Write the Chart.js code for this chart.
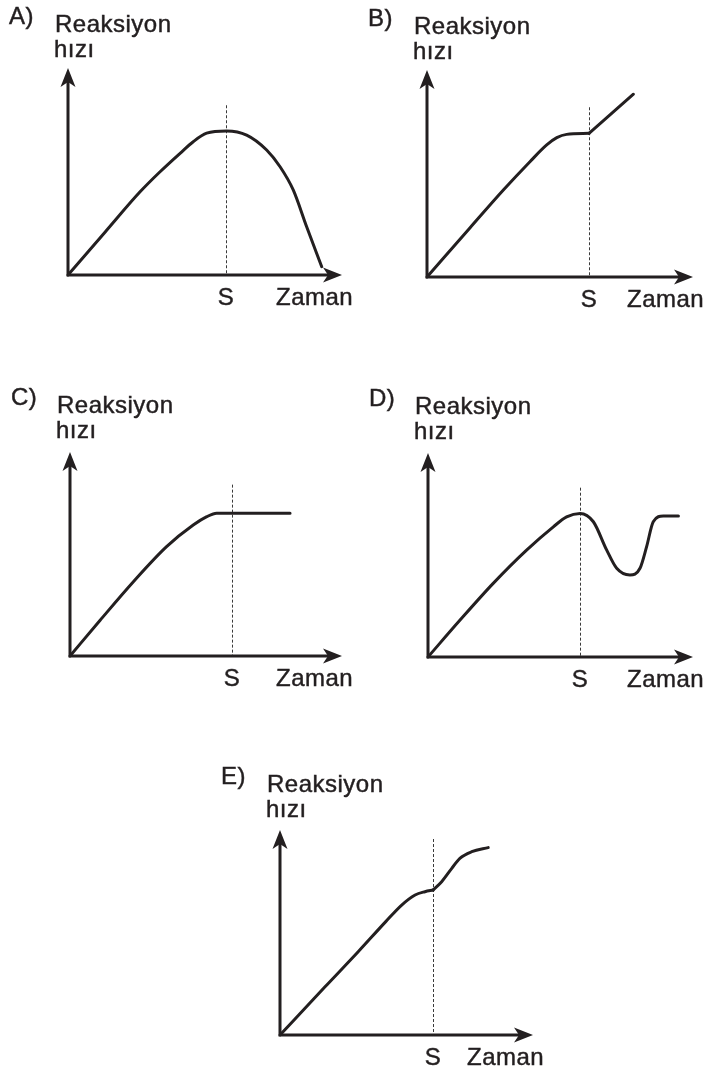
<!DOCTYPE html>
<html lang="tr">
<head>
<meta charset="utf-8">
<title>Reaksiyon hızı - Zaman</title>
<script src="https://cdn.jsdelivr.net/npm/chart.js@4/dist/chart.umd.min.js"></script>
<style>
    body { margin: 0; background: #ffffff; }
    #page { position: relative; width: 709px; height: 1080px; overflow: hidden; }
    #page canvas { position: absolute; }
</style>
</head>
<body>
<div id="page">
    <canvas id="chartA"></canvas>
    <canvas id="chartB"></canvas>
    <canvas id="chartC"></canvas>
    <canvas id="chartD"></canvas>
    <canvas id="chartE"></canvas>
</div>
<script>
// Textos de los gráficos
const LETTERS = ['A)', 'B)', 'C)', 'D)', 'E)'];
const Y_TITLE = ['Reaksiyon', 'hızı'];
const X_TITLE = 'Zaman';
const S_LABEL = 'S';

// Posición del instante S en el eje x y altura de la línea punteada (unidades 0-10)
const S_X = [5.77, 6.09, 5.96, 5.74, 6.05];
const S_TOP = [8.2, 8.2, 8.4, 8.3, 9.56];

// A) sube hasta S y luego cae
const A_X = [0, 1.35, 2.63, 3.36, 4.09, 4.57, 5.06, 5.79, 6.52, 7.25, 7.74, 8.22, 8.71, 9.26];
const A_Y = [0, 2.07, 4.02, 4.99, 5.88, 6.44, 6.85, 6.96, 6.76, 6.04, 5.23, 4.11, 2.33, 0.4];

// B) meseta antes de S, recta ascendente después
const B1_X = [0, 1.62, 2.87, 3.87, 4.50, 4.88, 5.25, 6.09];
const B1_Y = [0, 2.38, 4.20, 5.57, 6.38, 6.73, 6.89, 6.94];
const B2_X = [6.09, 7.76];
const B2_Y = [6.94, 8.83];

// C) llega a la meseta y se mantiene
const C_X = [0, 1.10, 2.33, 3.55, 4.53, 5.03, 5.39, 8.09];
const C_Y = [0, 1.74, 3.64, 5.36, 6.42, 6.83, 7.0, 7.0];

// D) cae después de S y vuelve al mismo nivel
const D_X = [0, 1.21, 2.46, 3.72, 4.73, 5.23, 5.74, 6.24, 6.74, 7.12, 7.62, 8.0, 8.25, 8.5, 8.88, 9.45];
const D_Y = [0, 1.81, 3.61, 5.24, 6.38, 6.87, 7.04, 6.63, 5.25, 4.35, 4.02, 4.35, 5.41, 6.63, 6.91, 6.91];

// E) se aplana antes de S y sube a un nivel mayor
const E1_X = [0, 1.78, 3.09, 4.18, 4.81, 5.34, 5.73, 6.05];
const E1_Y = [0, 2.35, 4.06, 5.53, 6.34, 6.83, 6.99, 7.07];
const E2_X = [6.05, 6.39, 6.79, 7.11, 7.58, 8.23];
const E2_Y = [7.07, 7.48, 8.13, 8.62, 8.94, 9.14];

const INK = '#231f20';
const FONT = '24px "Liberation Sans", Arial, sans-serif';

// Une arreglos x / y en puntos para Chart.js
const toPoints = (xs, ys) => xs.map((x, i) => ({ x: x, y: ys[i] }));

// Dibuja una punta de flecha con muesca
const arrowHead = (ctx, x, y, dir) => {
    ctx.save();
    ctx.translate(x, y);
    ctx.rotate(dir);
    ctx.beginPath();
    ctx.moveTo(0, 0);
    ctx.lineTo(-19, -7.5);
    ctx.lineTo(-14, 0);
    ctx.lineTo(-19, 7.5);
    ctx.closePath();
    ctx.fillStyle = INK;
    ctx.fill();
    ctx.restore();
}

// Texto con un trazo fino para darle más cuerpo
const label = (ctx, text, x, y) => {
    ctx.fillText(text, x, y);
    ctx.strokeText(text, x, y);
}

// Plugin para ejes con flecha, línea punteada en S y rótulos
const axesPlugin = {
    id: 'axesPlugin',
    beforeDatasetsDraw(chart, args, opts) {
        const ctx = chart.ctx;
        const xs = chart.scales.x;
        const ys = chart.scales.y;
        const sx = xs.getPixelForValue(opts.s);

        // Línea punteada de S
        ctx.save();
        ctx.strokeStyle = '#3a3a3a';
        ctx.lineWidth = 1;
        ctx.setLineDash([3, 2]);
        ctx.beginPath();
        ctx.moveTo(Math.round(sx) + 0.5, ys.getPixelForValue(opts.sTop));
        ctx.lineTo(Math.round(sx) + 0.5, ys.getPixelForValue(0));
        ctx.stroke();
        ctx.restore();
    },
    afterDatasetsDraw(chart, args, opts) {
        const ctx = chart.ctx;
        const xs = chart.scales.x;
        const ys = chart.scales.y;
        const ox = xs.getPixelForValue(0);
        const oy = ys.getPixelForValue(0);
        const tipX = xs.getPixelForValue(10);
        const tipY = ys.getPixelForValue(10);
        const sx = xs.getPixelForValue(opts.s);

        // Ejes
        ctx.save();
        ctx.strokeStyle = INK;
        ctx.lineWidth = 3;
        ctx.lineCap = 'butt';
        ctx.beginPath();
        ctx.moveTo(ox, oy + 1.5);
        ctx.lineTo(ox, tipY + 12);
        ctx.moveTo(ox - 1.5, oy);
        ctx.lineTo(tipX - 12, oy);
        ctx.stroke();
        arrowHead(ctx, ox, tipY, -Math.PI / 2);
        arrowHead(ctx, tipX, oy, 0);

        // Rótulos
        ctx.fillStyle = INK;
        ctx.strokeStyle = INK;
        ctx.lineWidth = 0.45;
        ctx.font = FONT;
        ctx.letterSpacing = '0.5px';
        ctx.textBaseline = 'alphabetic';
        ctx.textAlign = 'left';
        label(ctx, opts.letter, ox - 59, oy - 251);
        label(ctx, Y_TITLE[0], ox - 13, oy - 243);
        label(ctx, Y_TITLE[1], ox - 14, oy - 218);
        label(ctx, X_TITLE, tipX - 66, oy + 30);
        ctx.textAlign = 'center';
        label(ctx, S_LABEL, sx, oy + 30);
        ctx.restore();
    }
};

// Crea un gráfico de líneas suaves dentro de su recuadro
const curveGraph = (canvasId, box, segments, index) => {
    const canvas = document.getElementById(canvasId);
    canvas.width = box.w;
    canvas.height = box.h;
    canvas.style.left = box.left + 'px';
    canvas.style.top = box.top + 'px';
    canvas.style.width = box.w + 'px';
    canvas.style.height = box.h + 'px';

    new Chart(canvas, {
        type: 'line',
        data: {
            datasets: segments.map(seg => ({
                data: seg,
                borderColor: INK,
                borderWidth: 3,
                borderCapStyle: 'round',
                borderJoinStyle: 'round',
                pointRadius: 0,
                fill: false,
                clip: false,
                cubicInterpolationMode: 'monotone'
            }))
        },
        options: {
            responsive: false,
            animation: false,
            devicePixelRatio: 1,
            layout: { padding: box.pad },
            events: [],
            plugins: {
                legend: { display: false },
                tooltip: { enabled: false },
                axesPlugin: { letter: LETTERS[index], s: S_X[index], sTop: S_TOP[index] }
            },
            scales: {
                x: { type: 'linear', min: 0, max: 10, display: false },
                y: { type: 'linear', min: 0, max: 10, display: false }
            }
        },
        plugins: [axesPlugin]
    });
}

curveGraph('chartA', { left: 0, top: 0, w: 360, h: 320, pad: { left: 68, right: 18, top: 68, bottom: 45 } },
    [toPoints(A_X, A_Y)], 0);
curveGraph('chartB', { left: 360, top: 0, w: 349, h: 320, pad: { left: 67, right: 16, top: 70, bottom: 43 } },
    [toPoints(B1_X, B1_Y), toPoints(B2_X, B2_Y)], 1);
curveGraph('chartC', { left: 0, top: 380, w: 360, h: 320, pad: { left: 70, right: 18, top: 72, bottom: 44 } },
    [toPoints(C_X, C_Y)], 2);
curveGraph('chartD', { left: 360, top: 380, w: 349, h: 320, pad: { left: 68, right: 16, top: 73, bottom: 43 } },
    [toPoints(D_X, D_Y)], 3);
curveGraph('chartE', { left: 200, top: 750, w: 360, h: 330, pad: { left: 80, right: 27, top: 80, bottom: 45 } },
    [toPoints(E1_X, E1_Y), toPoints(E2_X, E2_Y)], 4);
</script>
</body>
</html>
